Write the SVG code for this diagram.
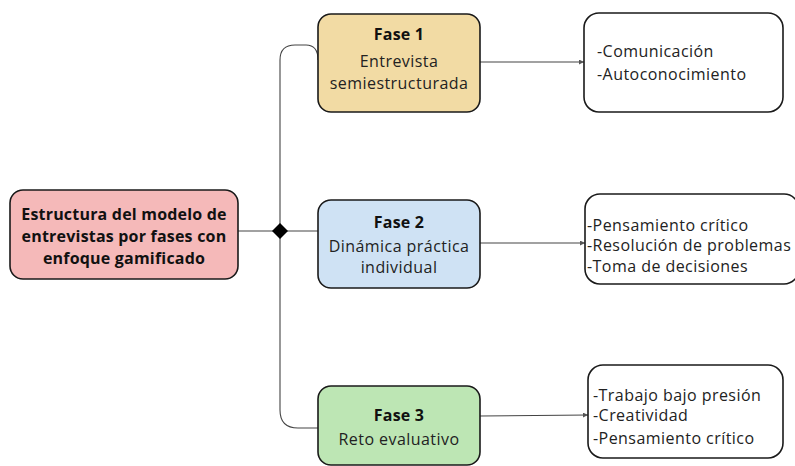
<svg xmlns="http://www.w3.org/2000/svg" width="795" height="466" viewBox="0 0 795 466">
<defs>
<marker id="ah" viewBox="0 0 6 6" refX="6" refY="3" markerWidth="5" markerHeight="5" orient="auto" markerUnits="userSpaceOnUse">
<path d="M0,0 L6,3 L0,6 z" fill="#555"/>
</marker>
</defs>
<style>
.box{stroke:#1a1a1a;stroke-width:1.6}
.t{font-family:"Open Sans","DejaVu Sans",sans-serif;font-size:16px;letter-spacing:0.45px;fill:#222}
.b{font-family:"Open Sans","DejaVu Sans",sans-serif;font-size:16px;letter-spacing:0.2px;font-weight:bold;fill:#111}
.c{text-anchor:middle}
.ln{fill:none;stroke:#444;stroke-width:1.1}
</style>
<rect width="795" height="466" fill="#fff"/>
<g id="connectors">
<path class="ln" d="M238,231 H318"/>
<path class="ln" d="M280,231 V60 Q280,45 295,45 H306 Q318,45 318,60"/>
<path class="ln" d="M280,231 V410 Q280,428 298,428 H318"/>
<path class="ln" d="M480,62 H584" marker-end="url(#ah)"/>
<path class="ln" d="M480,243 H585" marker-end="url(#ah)"/>
<path class="ln" d="M480,416 L588,415" marker-end="url(#ah)"/>
<path d="M280,223 L288,231 L280,239 L272,231 z" fill="#000"/>
</g>
<g id="root">
<rect class="box" x="10" y="190" width="228" height="89" rx="13" fill="#f5b9b9"/>
<text class="b c" x="124" y="220">Estructura del modelo de</text>
<text class="b c" x="124" y="242">entrevistas por fases con</text>
<text class="b c" x="124" y="264">enfoque gamificado</text>
</g>
<g id="fase1">
<rect class="box" x="318" y="14" width="162" height="98" rx="13" fill="#f2dba4"/>
<text class="b c" x="399" y="40">Fase 1</text>
<text class="t c" x="399" y="67">Entrevista</text>
<text class="t c" x="399" y="89">semiestructurada</text>
</g>
<g id="fase2">
<rect class="box" x="318" y="200" width="162" height="88" rx="13" fill="#cfe2f4"/>
<text class="b c" x="399" y="228">Fase 2</text>
<text class="t c" x="399" y="252">Dinámica práctica</text>
<text class="t c" x="399" y="273">individual</text>
</g>
<g id="fase3">
<rect class="box" x="318" y="386" width="162" height="79" rx="13" fill="#bde6b4"/>
<text class="b c" x="399" y="421">Fase 3</text>
<text class="t c" x="399" y="445">Reto evaluativo</text>
</g>
<g id="out1">
<rect class="box" x="584" y="13" width="199" height="99" rx="15" fill="#fff"/>
<text class="t" x="597" y="57">-Comunicación</text>
<text class="t" x="597" y="80">-Autoconocimiento</text>
</g>
<g id="out2">
<rect class="box" x="585" y="194" width="214" height="90" rx="15" fill="#fff"/>
<text class="t" x="587" y="231">-Pensamiento crítico</text>
<text class="t" x="587" y="251">-Resolución de problemas</text>
<text class="t" x="587" y="272">-Toma de decisiones</text>
</g>
<g id="out3">
<rect class="box" x="588" y="365" width="195" height="93" rx="15" fill="#fff"/>
<text class="t" x="593" y="401">-Trabajo bajo presión</text>
<text class="t" x="593" y="421">-Creatividad</text>
<text class="t" x="593" y="444">-Pensamiento crítico</text>
</g>
</svg>
